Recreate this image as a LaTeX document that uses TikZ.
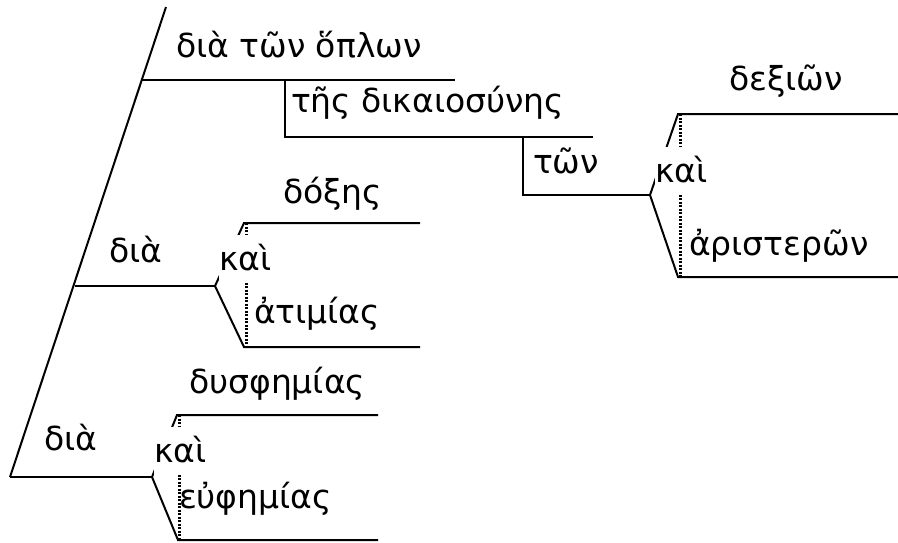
\documentclass[tikz,border=0pt]{standalone}
\usepackage{fontspec}
\setmainfont{DejaVu Sans}
\begin{document}
\begin{tikzpicture}[x=1pt,y=-1pt,line width=2pt,
  lbl/.style={anchor=base west,inner sep=0pt,font=\fontsize{33}{36}\selectfont},
  conj/.style={lbl,fill=white,text height=35pt,text depth=13pt},
  dotl/.style={line width=3pt,dash pattern=on 2pt off 1.5pt}]
\useasboundingbox (0,0) rectangle (898,542);
% main stem
\coordinate (top) at (166,7);
\coordinate (bot) at (10,477);
\draw (top) -- (bot);
% top branch
\coordinate (a1) at (142,80);
\coordinate (a2) at (455,80);
\coordinate (b1) at (285,80);
\coordinate (b2) at (285,137);
\coordinate (b3) at (593,137);
\coordinate (c1) at (523,137);
\coordinate (c2) at (523,195);
\coordinate (c3) at (650,195);
\coordinate (d1) at (678,114);
\coordinate (d2) at (898,114);
\coordinate (e1) at (678,277);
\coordinate (e2) at (898,277);
\coordinate (f1) at (680,114);
\coordinate (f2) at (680,277);
\draw (a1) -- (a2);
\draw (b1) -- (b2) -- (b3);
\draw (c1) -- (c2) -- (c3);
\draw (c3) -- (d1) -- (d2);
\draw (c3) -- (e1) -- (e2);
\draw[dotl] (f1) -- (f2);
% middle branch
\coordinate (g1) at (75,286);
\coordinate (g2) at (215,286);
\coordinate (h1) at (244,223);
\coordinate (h2) at (420,223);
\coordinate (i1) at (244,347);
\coordinate (i2) at (420,347);
\coordinate (j1) at (246,223);
\coordinate (j2) at (246,347);
\draw (g1) -- (g2);
\draw (g2) -- (h1) -- (h2);
\draw (g2) -- (i1) -- (i2);
\draw[dotl] (j1) -- (j2);
% bottom branch
\coordinate (k2) at (152,477);
\coordinate (l1) at (177,415);
\coordinate (l2) at (378,415);
\coordinate (m1) at (178,540);
\coordinate (m2) at (378,540);
\coordinate (n1) at (179,415);
\coordinate (n2) at (179,540);
\draw (bot) -- (k2);
\draw (k2) -- (l1) -- (l2);
\draw (k2) -- (m1) -- (m2);
\draw[dotl] (n1) -- (n2);
% labels
\node[lbl] (t1) at (175,57) {διὰ τῶν ὅπλων};
\node[lbl] (t2) at (290,112) {τῆς δικαιοσύνης};
\node[lbl] (t3) at (532,173) {τῶν};
\node[conj] (k1) at (654,182) {καὶ};
\node[lbl] (t4) at (728,90) {δεξιῶν};
\node[lbl] (t5) at (688,255) {ἀριστερῶν};
\node[lbl] (t6) at (282,203) {δόξης};
\node[lbl] (t7) at (108,262) {διὰ};
\node[conj] (kk2) at (218,270) {καὶ};
\node[lbl] (t8) at (253,323) {ἀτιμίας};
\node[lbl] (t9) at (188,393) {δυσφημίας};
\node[lbl] (t10) at (43,450) {διὰ};
\node[conj] (kk3) at (153,462) {καὶ};
\node[lbl] (t11) at (178,508) {εὐφημίας};
\end{tikzpicture}
\end{document}
